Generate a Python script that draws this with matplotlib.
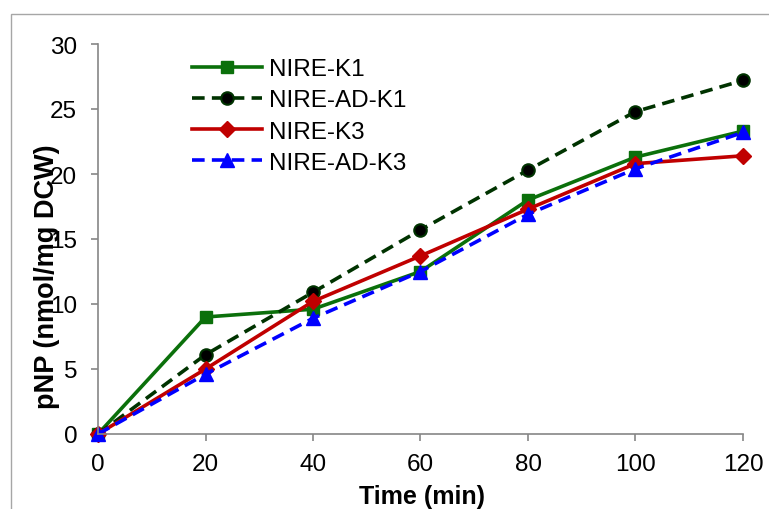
#!/usr/bin/env python
import matplotlib
matplotlib.use("Agg")
import matplotlib.pyplot as plt
from matplotlib.patches import Rectangle

plt.rcParams['font.family'] = ['Liberation Sans', 'DejaVu Sans']

time_min = [0, 20, 40, 60, 80, 100, 120]
nire_k1 = [0, 9.0, 9.6, 12.5, 18.0, 21.3, 23.3]
nire_ad_k1 = [0, 6.1, 10.9, 15.7, 20.3, 24.8, 27.2]
nire_k3 = [0, 5.0, 10.2, 13.7, 17.3, 20.8, 21.4]
nire_ad_k3 = [0, 4.6, 8.9, 12.5, 16.9, 20.4, 23.2]

xticks = [0, 20, 40, 60, 80, 100, 120]
yticks = [0, 5, 10, 15, 20, 25, 30]

GRAY = '#868686'


def main():
    fig = plt.figure(figsize=(7.69, 5.10), dpi=100)
    ax = fig.add_axes([98 / 769, 1 - 435 / 510, (743 - 98) / 769, (435 - 45) / 510])

    # light frame of the chart area (cropped on the right and bottom)
    fig.add_artist(Rectangle((11 / 769, -0.5), 2.0, 1.5 - 15 / 510,
                             transform=fig.transFigure, fill=False,
                             edgecolor='#a6a6a6', lw=1.0))

    lw = 2.6
    ax.plot(time_min, nire_k1, '-', color='#0b700b', lw=lw, marker='s',
            ms=9, mfc='#0b700b', mec='#0b700b', label='NIRE-K1', clip_on=False)
    ax.plot(time_min, nire_ad_k1, '--', color='#003300', lw=lw, marker='o',
            ms=9, mfc='black', mec='#003300', mew=1.5, label='NIRE-AD-K1',
            dashes=(3.5, 2.0), clip_on=False)
    ax.plot(time_min, nire_k3, '-', color='#c00000', lw=lw, marker='D',
            ms=8, mfc='#c00000', mec='#c00000', label='NIRE-K3', clip_on=False)
    ax.plot(time_min, nire_ad_k3, '--', color='#0000ff', lw=lw, marker='^',
            ms=10, mfc='#0000ff', mec='#0000ff', label='NIRE-AD-K3',
            dashes=(3.5, 2.0), clip_on=False)

    ax.set_xlim(0, 120)
    ax.set_ylim(0, 30)
    ax.set_xticks(xticks)
    ax.set_yticks(yticks)

    for side in ['top', 'right']:
        ax.spines[side].set_visible(False)
    for side in ['left', 'bottom']:
        ax.spines[side].set_color(GRAY)
        ax.spines[side].set_linewidth(1.2)
    ax.tick_params(direction='out', length=5, width=1.2, color=GRAY,
                   labelsize=17.5, labelcolor='black')
    ax.tick_params(axis='x', pad=9)
    ax.tick_params(axis='y', pad=10)

    fig.text(422 / 769, 1 - 497 / 510, 'Time (min)', ha='center', va='center',
             fontsize=18, fontweight='bold')
    fig.text(47 / 769, 1 - 277 / 510, 'pNP (nmol/mg DCW)', ha='center',
             va='center', rotation=90, fontsize=19.5, fontweight='bold')

    ax.legend(loc='upper left', bbox_to_anchor=(192 / 769, 1 - 59 / 510),
              bbox_transform=fig.transFigure, frameon=False, fontsize=17.5,
              handlelength=2.9, handletextpad=0.25, labelspacing=0.38,
              borderpad=0, borderaxespad=0)

    fig.savefig('out.png', dpi=100)


if __name__ == '__main__':
    main()
